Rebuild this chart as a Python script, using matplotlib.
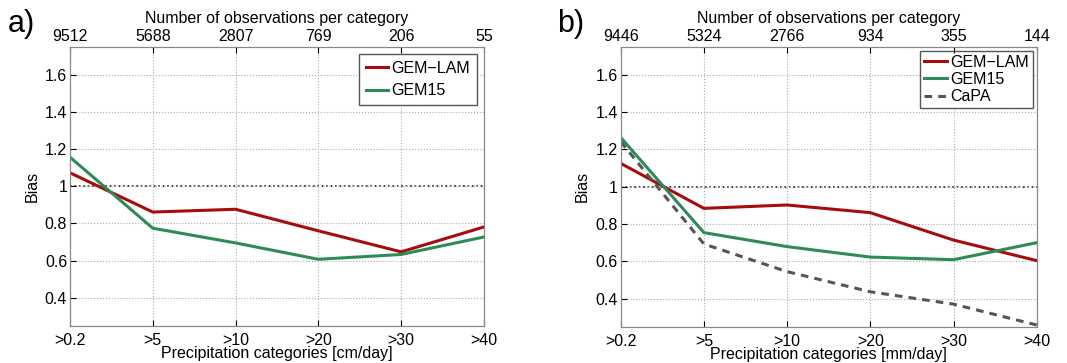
import numpy as np
import matplotlib
matplotlib.use('Agg')
import matplotlib.pyplot as plt
from matplotlib.ticker import FixedLocator, FuncFormatter

categories = ['>0.2', '>5', '>10', '>20', '>30', '>40']

# panel a
nobs_a = ['9512', '5688', '2807', '769', '206', '55']
gemlam_a = [1.072, 0.861, 0.876, 0.760, 0.647, 0.781]
gem15_a = [1.156, 0.774, 0.695, 0.607, 0.633, 0.727]

# panel b
nobs_b = ['9446', '5324', '2766', '934', '355', '144']
gemlam_b = [1.125, 0.884, 0.902, 0.861, 0.714, 0.604]
gem15_b = [1.264, 0.754, 0.679, 0.623, 0.609, 0.700]
capa_b = [1.241, 0.693, 0.545, 0.437, 0.371, 0.259]

red = '#a50d0d'
green = '#2e8b57'
grey = '#555555'
fs = 11.5

plt.rcParams['font.family'] = ['Liberation Sans', 'DejaVu Sans']
plt.rcParams['font.size'] = fs

fig = plt.figure(figsize=(10.67, 3.63), dpi=100)
ax_a = fig.add_axes([70/1067, 1-325.7/363, 414/1067, 279/363])
ax_b = fig.add_axes([620.7/1067, 1-326.7/363, 416/1067, 280/363])


def style(ax, nobs, unit, label, labx):
    x = np.arange(len(categories))
    ax.set_xlim(0, len(categories)-1)
    ax.set_ylim(0.25, 1.75)
    ax.set_xticks(x)
    ax.set_xticklabels(categories)
    ax.yaxis.set_major_locator(FixedLocator([0.4, 0.6, 0.8, 1.0, 1.2, 1.4, 1.6]))
    ax.yaxis.set_major_formatter(FuncFormatter(lambda v, p: '1' if abs(v-1) < 1e-9 else '%.1f' % v))
    ax.grid(True, linestyle=':', color='#aaaaaa', linewidth=0.8)
    ax.axhline(1.0, color='#222222', linestyle=':', linewidth=1.2, zorder=1)
    ax.tick_params(direction='in', length=4, labelsize=fs)
    ax.tick_params(axis='x', pad=5)
    ax.tick_params(axis='y', pad=2)
    for s in ax.spines.values():
        s.set_color('#888888')
    ax.set_ylabel('Bias', fontsize=fs, labelpad=4)
    ax.set_xlabel('Precipitation categories [%s]' % unit, fontsize=fs, labelpad=-1)
    top = ax.twiny()
    top.set_xlim(ax.get_xlim())
    top.set_xticks(x)
    top.set_xticklabels(nobs)
    top.tick_params(direction='in', length=4, labelsize=fs, pad=2)
    top.set_xlabel('Number of observations per category', fontsize=fs, labelpad=4)
    for s in top.spines.values():
        s.set_color('#888888')
    fig.text(labx, 0.975, label, fontsize=22, va='top', ha='left')


x = np.arange(len(categories))
ax_a.plot(x, gemlam_a, color=red, lw=2.2, label='GEM\u2212LAM', zorder=3)
ax_a.plot(x, gem15_a, color=green, lw=2.2, label='GEM15', zorder=3)
style(ax_a, nobs_a, 'cm/day', 'a)', 8/1067)
ax_a.legend(loc='upper right', fontsize=fs, fancybox=False, edgecolor='#555555',
            handlelength=1.35, handletextpad=0.2, borderpad=0.45, labelspacing=0.45,
            framealpha=1, borderaxespad=0.45)

ax_b.plot(x, gemlam_b, color=red, lw=2.2, label='GEM\u2212LAM', zorder=3)
ax_b.plot(x, gem15_b, color=green, lw=2.2, label='GEM15', zorder=3)
ax_b.plot(x, capa_b, color=grey, lw=2.2, ls=(0, (2.5, 2)), label='CaPA', zorder=3)
style(ax_b, nobs_b, 'mm/day', 'b)', 557/1067)
ax_b.legend(loc='upper right', fontsize=fs, fancybox=False, edgecolor='#555555',
            handlelength=1.45, handletextpad=0.2, borderpad=0.25, labelspacing=0.15,
            framealpha=1, borderaxespad=0.25)

fig.savefig('out.png', dpi=100)
